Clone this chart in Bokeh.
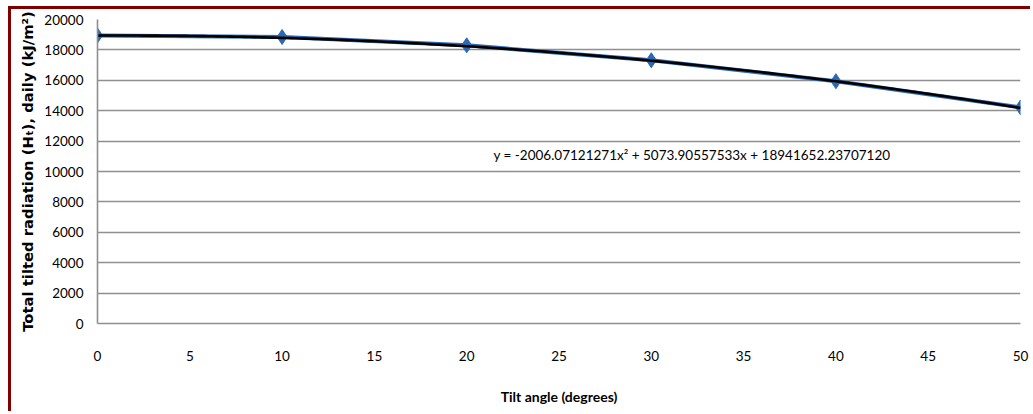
import numpy as np
from bokeh.plotting import figure
from bokeh.models import Label, Range1d, FixedTicker
from bokeh.embed import file_html
from bokeh.resources import INLINE

# Daily total tilted radiation against tilt angle
tilt_deg = [0, 10, 20, 30, 40, 50]
radiation_kj = [18950, 18850, 18300, 17320, 15940, 14220]

# Second-order trendline coefficients (as printed, J-based: divide by 1000 for kJ)
trend_coef = [-2006.07121271, 5073.90557533, 18941652.23707120]
trend_text = "y = -2006.07121271x\u00b2 + 5073.90557533x + 18941652.23707120"

x_ticks = [0, 5, 10, 15, 20, 25, 30, 35, 40, 45, 50]
y_ticks = [0, 2000, 4000, 6000, 8000, 10000, 12000, 14000, 16000, 18000, 20000]

x_title = "Tilt angle (degrees)"
y_title = "Total tilted radiation (H\u209c), daily (kJ/m\u00b2)"

GRID = "#8f8f8f"
FRAME = "#800000"

# The canvas sits inside a dark red left/top page border
p = figure(width=1022, height=405,
           x_range=Range1d(0, 50), y_range=Range1d(0, 20000),
           output_backend="svg", toolbar_location=None,
           min_border_left=86, min_border_right=13,
           min_border_top=10, min_border_bottom=91)
p.styles = {
    "margin-left": "8px",
    "margin-top": "6px",
    "border-left": f"3px solid {FRAME}",
    "border-top": f"3px solid {FRAME}",
}
p.outline_line_color = None
p.background_fill_color = "white"
p.border_fill_color = "white"

p.xgrid.visible = False
p.ygrid.grid_line_color = GRID
p.ygrid.grid_line_width = 1.6

p.xaxis.ticker = FixedTicker(ticks=x_ticks)
p.yaxis.ticker = FixedTicker(ticks=y_ticks)
for ax in (p.xaxis[0], p.yaxis[0]):
    ax.axis_line_color = GRID
    ax.axis_line_width = 1.6
    ax.major_tick_line_color = None
    ax.minor_tick_line_color = None
    ax.major_tick_out = 0
    ax.major_tick_in = 0
    ax.major_label_text_font = "Lato"
    ax.major_label_text_font_size = "13.5px"
    ax.major_label_text_color = "black"
p.xaxis.major_label_standoff = 27
p.yaxis.major_label_standoff = 14

p.xaxis.axis_label = x_title
p.xaxis.axis_label_text_font = "Lato"
p.xaxis.axis_label_text_font_style = "bold"
p.xaxis.axis_label_text_font_size = "14px"
p.xaxis.axis_label_text_color = "black"
p.xaxis.axis_label_standoff = 24

p.yaxis.axis_label = y_title
p.yaxis.axis_label_text_font = "DejaVu Sans"
p.yaxis.axis_label_text_font_style = "bold"
p.yaxis.axis_label_text_font_size = "14.8px"
p.yaxis.axis_label_text_color = "black"
p.yaxis.axis_label_standoff = 5

# Measured series: blue line with diamond markers
p.line(tilt_deg, radiation_kj, line_color="#2b69b5", line_width=4)
p.scatter(tilt_deg, radiation_kj, marker="diamond", size=15,
          fill_color="#2b69b5", line_color="#2b69b5")

# Polynomial trendline in black
xs = np.linspace(0, 50, 201)
ys = (trend_coef[0] * xs**2 + trend_coef[1] * xs + trend_coef[2]) / 1000.0
p.line(xs, ys, line_color="black", line_width=2.6)

p.add_layout(Label(x=21.45, y=11118, text=trend_text,
                   text_font="Lato", text_font_size="13.5px",
                   text_color="black", text_baseline="middle", text_align="left"))

open("out.html", "w").write(file_html(p, INLINE))
